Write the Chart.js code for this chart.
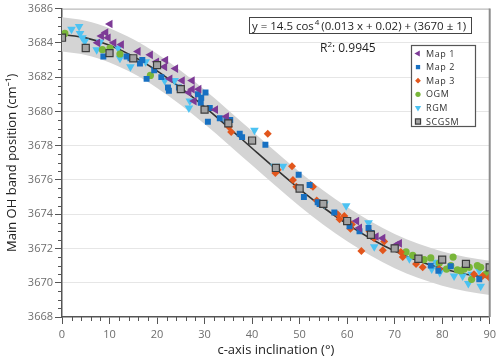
<!DOCTYPE html>
<html>
<head>
<meta charset="utf-8">
<script src="https://cdn.jsdelivr.net/npm/chart.js@4/dist/chart.umd.min.js"></script>
<style>
  html, body { margin: 0; padding: 0; background: #fff; }
  #wrap { width: 500px; height: 360px; }
</style>
</head>
<body>
<div id="wrap"><canvas id="oh"></canvas></div>
<script>
// === DATA ===
const map1 = [[7.5,3684.0],[8.3,3684.4],[9.2,3684.6],[9.7,3684.3],[10.1,3685.1],[10.9,3684.0],[12.5,3683.9],[16.0,3683.5],[18.6,3683.3],[19.9,3682.9],[21.6,3682.6],[21.8,3683.0],[23.9,3682.5],[22.7,3681.9],[25.3,3681.8],[27.4,3681.8],[27.4,3681.3],[28.8,3681.3],[26.7,3681.1],[27.8,3680.6],[32.3,3680.1],[34.6,3679.7],[62.0,3673.6],[62.6,3673.2],[66.1,3672.7],[67.5,3672.6],[70.3,3672.2],[71.0,3672.3]];
const map2 = [[8.7,3683.2],[13.6,3683.2],[14.4,3683.1],[16.4,3682.8],[16.9,3683.0],[17.8,3681.9],[19.4,3682.4],[20.9,3682.0],[22.3,3681.4],[22.5,3681.2],[24.6,3681.4],[28.6,3681.0],[30.2,3681.1],[29.3,3680.8],[29.2,3680.5],[31.1,3680.2],[30.7,3679.4],[33.2,3679.6],[34.6,3679.5],[35.4,3679.5],[37.4,3678.7],[37.9,3678.5],[42.8,3678.05],[49.8,3676.3],[50.9,3675.0],[52.1,3675.7],[53.8,3674.7],[54.2,3674.6],[57.3,3674.1],[60.5,3673.3],[62.6,3673.0],[64.5,3673.2],[65.1,3672.9],[77.6,3671.0],[79.2,3670.7],[81.8,3670.96],[87.8,3670.2]];
const map3 = [[35.1,3679.1],[35.6,3678.8],[43.3,3678.7],[44.9,3676.4],[45.4,3676.6],[48.4,3676.8],[48.6,3676.0],[49.3,3675.6],[52.3,3675.7],[52.8,3675.6],[53.6,3674.8],[54.2,3674.6],[58.0,3674.0],[58.4,3673.7],[59.4,3673.9],[60.7,3673.15],[61.0,3673.4],[63.0,3671.85],[64.7,3673.0],[65.7,3672.6],[67.5,3671.9],[67.8,3672.4],[71.3,3671.8],[71.7,3671.5],[74.5,3671.1],[75.9,3670.9],[79.4,3670.8],[86.7,3670.5],[88.5,3670.4],[89.9,3670.3]];
const ogm = [[0.6,3684.55],[8.5,3683.6],[10.1,3683.7],[12.2,3683.35],[18.6,3682.1],[72.4,3671.8],[73.8,3671.6],[76.2,3671.35],[77.6,3671.45],[79.4,3671.15],[80.9,3670.8],[81.8,3671.0],[82.3,3671.5],[83.2,3670.75],[83.9,3670.7],[84.6,3670.8],[85.7,3670.9],[86.2,3670.2],[87.4,3671.0],[88.1,3670.9],[89.2,3670.5]];
const rgm = [[2.0,3684.8],[3.6,3684.95],[3.8,3684.55],[4.3,3684.3],[4.8,3684.1],[7.3,3683.6],[8.0,3684.05],[11.8,3683.7],[12.2,3683.1],[14.4,3682.6],[17.6,3682.9],[21.6,3681.8],[23.7,3681.8],[26.9,3680.6],[26.7,3680.2],[40.5,3678.9],[44.7,3676.8],[46.5,3676.8],[55.2,3674.6],[59.8,3674.5],[64.5,3673.5],[65.7,3672.1],[73.1,3671.4],[77.8,3670.8],[78.7,3671.2],[79.5,3670.6],[82.5,3670.4],[84.3,3670.4],[85.5,3669.95],[86.2,3670.5],[87.8,3670.7],[88.1,3669.8],[89.5,3670.5]];
const scgsm = [[0,3684.3],[5,3683.7],[10,3683.4],[15,3683.1],[20,3682.7],[25,3681.3],[30,3680.1],[35,3679.3],[40,3678.3],[45,3676.7],[50,3675.5],[55,3674.6],[60,3673.6],[65,3672.8],[70,3672.0],[75,3671.4],[80,3671.35],[85,3671.1],[90,3670.9]];

// fitted curve and its ±1 band
const fitX = [0,5,10,15,20,25,30,35,40,45,50,55,60,65,70,75,80,85,90];
const fitY = [3684.49,3684.29,3683.86,3683.21,3682.37,3681.37,3680.26,3679.07,3677.85,3676.64,3675.47,3674.39,3673.42,3672.57,3671.85,3671.27,3670.83,3670.50,3670.28];
const bandHigh = [3685.49,3685.29,3684.86,3684.21,3683.37,3682.37,3681.26,3680.07,3678.85,3677.64,3676.47,3675.39,3674.42,3673.57,3672.85,3672.27,3671.83,3671.50,3671.28];
const bandLow = [3683.49,3683.29,3682.86,3682.21,3681.37,3680.37,3679.26,3678.07,3676.85,3675.64,3674.47,3673.39,3672.42,3671.57,3670.85,3670.27,3669.83,3669.50,3669.28];

const yTickLabels = [3668,3670,3672,3674,3676,3678,3680,3682,3684,3686];
const xTickLabels = [0,10,20,30,40,50,60,70,80,90];
const legendNames = ["Map 1","Map 2","Map 3","OGM","RGM","SCGSM"];

const pts = arr => arr.map(p => ({ x: p[0], y: p[1] }));
const curve = ys => fitX.map((x, i) => ({ x, y: ys[i] }));

const FONT = "'Open Sans', 'Noto Sans', sans-serif";

// === series styles ===
const series = [
  { label: "Map 1", data: pts(map1), pointStyle: "triangle", rotation: 270, pointRadius: 5, backgroundColor: "#7d3a96", borderColor: "#7d3a96", borderWidth: 0, order: 1 },
  { label: "Map 2", data: pts(map2), pointStyle: "rect", pointRadius: 4.2, backgroundColor: "#1770c2", borderColor: "#1770c2", borderWidth: 0, order: 1 },
  { label: "Map 3", data: pts(map3), pointStyle: "rectRot", pointRadius: 4, backgroundColor: "#e2561c", borderColor: "#e2561c", borderWidth: 0, order: 1 },
  { label: "OGM", data: pts(ogm), pointStyle: "circle", pointRadius: 3.6, backgroundColor: "#79b63a", borderColor: "#79b63a", borderWidth: 0, order: 1 },
  { label: "RGM", data: pts(rgm), pointStyle: "triangle", rotation: 180, pointRadius: 5, backgroundColor: "#4cc2f2", borderColor: "#4cc2f2", borderWidth: 0, order: 1 },
  { label: "SCGSM", data: pts(scgsm), pointStyle: "rect", pointRadius: 5, backgroundColor: "#a3a3a3", borderColor: "#3c3c3c", borderWidth: 1.2, order: 0 }
];

const lines = [
  { label: "fit", data: curve(fitY), showLine: true, pointRadius: 0, borderColor: "#333333", borderWidth: 1.6, cubicInterpolationMode: "monotone", fill: false, order: 2 },
  { label: "bandHigh", data: curve(bandHigh), showLine: true, pointRadius: 0, borderWidth: 0, borderColor: "rgba(0,0,0,0)", backgroundColor: "#d4d4d4", cubicInterpolationMode: "monotone", fill: "+1", order: 3 },
  { label: "bandLow", data: curve(bandLow), showLine: true, pointRadius: 0, borderWidth: 0, borderColor: "rgba(0,0,0,0)", cubicInterpolationMode: "monotone", fill: false, order: 3 }
];

// === PLUGIN: frame, minor ticks, equation, legend ===
const decor = {
  id: "decor",
  afterDraw(chart) {
    const ctx = chart.ctx;
    const a = chart.chartArea;
    const xs = chart.scales.x, ys = chart.scales.y;
    ctx.save();

    // top + right frame
    ctx.strokeStyle = "#a8a8a8"; ctx.lineWidth = 1;
    ctx.beginPath(); ctx.moveTo(a.left, a.top + 0.5); ctx.lineTo(a.right, a.top + 0.5); ctx.stroke();
    ctx.strokeStyle = "#8c8c8c"; ctx.lineWidth = 2;
    ctx.beginPath(); ctx.moveTo(a.right, a.top); ctx.lineTo(a.right, a.bottom); ctx.stroke();

    // minor ticks
    ctx.strokeStyle = "#555"; ctx.lineWidth = 1;
    ctx.beginPath();
    for (let v = 3668.5; v < 3686; v += 0.5) {
      if (Math.abs(v % 2) < 0.01) continue;
      const py = Math.round(ys.getPixelForValue(v)) + 0.5;
      ctx.moveTo(a.left - 4, py); ctx.lineTo(a.left, py);
    }
    for (let v = 2; v < 90; v += 2) {
      if (v % 10 === 0) continue;
      const px = Math.round(xs.getPixelForValue(v)) + 0.5;
      ctx.moveTo(px, a.bottom); ctx.lineTo(px, a.bottom + 4);
    }
    ctx.stroke();

    // equation box
    ctx.fillStyle = "#fff";
    ctx.fillRect(249, 17, 223, 17);
    ctx.strokeStyle = "#444"; ctx.lineWidth = 1;
    ctx.strokeRect(249.5, 17.5, 222, 16);
    ctx.fillStyle = "#1e1e1e";
    ctx.textBaseline = "alphabetic";
    const p1 = "y = 14.5 cos";
    const p2 = "(0.013 x + 0.02) + (3670 \u00b1 1)";
    let fs = 12.5;
    ctx.font = fs + "px " + FONT;
    const w = ctx.measureText(p1 + p2).width + 8;
    if (w > 214) { fs = fs * 214 / w; }
    ctx.font = fs + "px " + FONT;
    let tx = 252;
    const base = 30;
    ctx.fillText(p1, tx, base); tx += ctx.measureText(p1).width;
    ctx.font = "8px " + FONT;
    ctx.fillText("4", tx + 1, base - 5); tx += ctx.measureText("4").width + 3;
    ctx.font = fs + "px " + FONT;
    ctx.fillText(p2, tx, base);

    // R2
    ctx.font = "12px " + FONT;
    let rx = 320;
    ctx.fillText("R", rx, 52); rx += ctx.measureText("R").width;
    ctx.font = "8px " + FONT;
    ctx.fillText("2", rx, 47); rx += ctx.measureText("2").width;
    ctx.font = "12px " + FONT;
    ctx.fillText(": 0.9945", rx, 52);

    // legend
    ctx.fillStyle = "#fff";
    ctx.fillRect(411, 45, 65, 82);
    ctx.strokeStyle = "#555"; ctx.lineWidth = 1.2;
    ctx.strokeRect(411.5, 45.5, 64, 81);
    ctx.font = "9px " + FONT;
    ctx.letterSpacing = "0.6px";
    ctx.textBaseline = "middle";
    legendNames.forEach((name, i) => {
      const ds = series[i];
      const cy = 53.5 + i * 13.6;
      ctx.fillStyle = ds.backgroundColor;
      ctx.strokeStyle = ds.borderColor;
      ctx.lineWidth = ds.borderWidth;
      Chart.helpers.drawPoint(ctx, {
        pointStyle: ds.pointStyle,
        rotation: ds.rotation || 0,
        radius: Math.min(ds.pointRadius * 0.72, 3.6),
        borderWidth: ds.borderWidth
      }, 418, cy);
      ctx.fillStyle = "#333";
      ctx.fillText(name, 426, cy + 0.5);
    });
    ctx.restore();
  }
};

// === CHART ===
new Chart(document.getElementById("oh"), {
  type: "scatter",
  data: { datasets: [...series, ...lines] },
  options: {
    responsive: true,
    maintainAspectRatio: false,
    animation: false,
    layout: { padding: { top: 7, right: 9, left: 0, bottom: 0 } },
    plugins: { legend: { display: false }, tooltip: { enabled: false } },
    scales: {
      x: {
        type: "linear", min: 0, max: 90,
        afterFit: s => { s.height = 43; },
        afterBuildTicks: s => { s.ticks = xTickLabels.map(v => ({ value: v })); },
        ticks: { color: "#6e6e6e", font: { family: FONT, size: 11 }, padding: 4, maxRotation: 0, callback: v => String(v) },
        grid: { drawOnChartArea: false, color: "#555", tickColor: "#555", tickLength: 7 },
        border: { color: "#555", width: 1.5 },
        title: { display: true, text: "c-axis inclination (\u00b0)", color: "#222", font: { family: FONT, size: 13 }, padding: { top: 0, bottom: 2 } }
      },
      y: {
        type: "linear", min: 3668, max: 3686,
        afterFit: s => { s.width = 62; },
        afterBuildTicks: s => { s.ticks = yTickLabels.map(v => ({ value: v })); },
        ticks: { color: "#6e6e6e", font: { family: FONT, size: 11 }, padding: 2, callback: v => String(v) },
        grid: {
          color: c => (c.tick.value === 3668 || c.tick.value === 3686) ? "rgba(0,0,0,0)" : "#e6e6e6",
          tickColor: "#555", tickLength: 7
        },
        border: { color: "#555", width: 1.5 },
        title: { display: true, text: "Main OH band position (cm\u207b\u00b9)", color: "#222", font: { family: FONT, size: 13 }, padding: { top: 4, bottom: 0 } }
      }
    }
  },
  plugins: [decor]
});
</script>
</body>
</html>
